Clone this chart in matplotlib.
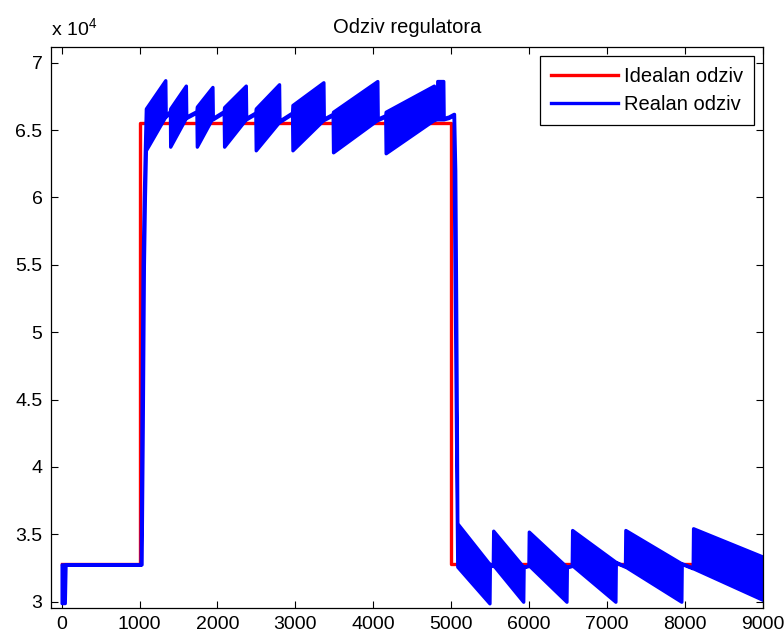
import matplotlib
matplotlib.use("Agg")
import matplotlib.pyplot as plt
from matplotlib.lines import Line2D
from matplotlib.ticker import FuncFormatter

plt.rcParams['font.family'] = ['Liberation Sans', 'DejaVu Sans']
plt.rcParams['mathtext.default'] = 'regular'

# idealni odziv (step)
ideal_x = [0, 1000, 1000, 5000, 5000, 9000]
ideal_y = [32768, 32768, 65536, 65536, 32768, 32768]

# realni odziv - ovojnica oscilacija (x, donja granica, gornja granica)
real_x = [0, 40, 50, 1015, 1025, 1040, 1055, 1068,
          1081, 1330, 1335, 1390,
          1393, 1594, 1599, 1730,
          1735, 1935, 1940, 2080,
          2085, 2363, 2368, 2486,
          2491, 2790, 2795, 2957,
          2962, 3359, 3364, 3478,
          3483, 4051, 4056, 4153,
          4158, 4777, 4782, 4815,
          4820, 4897, 4902, 4966, 5030,
          5035, 5050, 5062, 5072,
          5077, 5490, 5495, 5533,
          5538, 5923, 5928, 5990,
          5995, 6478, 6483, 6546,
          6551, 7106, 7111, 7229,
          7234, 7952, 7957, 8098,
          8103, 9000]
real_lo = [29900, 29900, 32768, 32768, 32768, 43000, 55000, 60000,
           63500, 66000, 66000, 66300,
           63770, 65900, 65900, 66300,
           63770, 65900, 65800, 66300,
           63770, 65800, 65800, 66200,
           63500, 65600, 65600, 66200,
           63500, 65750, 65750, 66100,
           63350, 65750, 65750, 66000,
           63280, 65750, 65750, 65800,
           65800, 65800, 65800, 65900, 66100,
           60000, 50000, 42000, 35800,
           32600, 29880, 32750, 32650,
           32720, 30000, 32550, 32650,
           32700, 30000, 32550, 32650,
           32700, 30000, 32900, 32600,
           32600, 30000, 32800, 32480,
           32480, 30130]
real_hi = [32768, 32768, 32768, 32768, 43000, 55000, 60000, 63500,
           66600, 68700, 66100, 66400,
           66600, 68300, 66000, 66400,
           66740, 68200, 65900, 66400,
           66700, 68300, 65900, 66300,
           66600, 68400, 65700, 66300,
           66860, 68550, 65850, 66200,
           66360, 68640, 65850, 66100,
           66360, 68300, 65850, 65900,
           68640, 68640, 65900, 66000, 66200,
           66200, 62000, 52000, 42000,
           35820, 32800, 32800, 32720,
           35270, 32600, 32600, 32700,
           35200, 32600, 32600, 32700,
           35320, 32970, 32950, 32650,
           35320, 32850, 32850, 32530,
           35450, 33340]

y_ticks = [30000, 35000, 40000, 45000, 50000, 55000, 60000, 65000, 70000]
x_ticks = [0, 1000, 2000, 3000, 4000, 5000, 6000, 7000, 8000, 9000]

fig = plt.figure(figsize=(7.84, 6.36), dpi=100)
ax = fig.add_axes([0.0647, 0.0445, 0.9085, 0.8816])

ax.plot(ideal_x, ideal_y, color='red', linewidth=2.4, zorder=2)
ax.fill_between(real_x, real_lo, real_hi, facecolor='blue', edgecolor='blue',
                linewidth=2.4, zorder=3)

ax.set_xlim(-140, 9000)
ax.set_ylim(29555, 71166)
ax.set_xticks(x_ticks)
ax.set_yticks(y_ticks)
ax.yaxis.set_major_formatter(FuncFormatter(lambda v, p: '%g' % (v / 1e4)))
ax.tick_params(direction='in', top=True, right=True, length=5, width=0.8,
               labelsize=14, pad=6)
for s in ax.spines.values():
    s.set_linewidth(0.9)
    s.set_zorder(4)

ax.set_title('Odziv regulatora', fontsize=14.5, pad=10)
fig.text(0.0647, 1 - 35 / 636, r'x 10$^4$', fontsize=14, ha='left', va='baseline')

handles = [Line2D([], [], color='red', linewidth=2.4),
           Line2D([], [], color='blue', linewidth=2.4)]
leg = ax.legend(handles, ['Idealan odziv', 'Realan odziv'], loc='upper right',
                fontsize=14.5, fancybox=False, framealpha=1, edgecolor='black',
                handlelength=3.3, handletextpad=0.3, borderpad=0.55,
                borderaxespad=0.45, labelspacing=0.45)
leg.get_frame().set_linewidth(0.9)
leg.set_zorder(5)

fig.savefig('out.png', dpi=100)
